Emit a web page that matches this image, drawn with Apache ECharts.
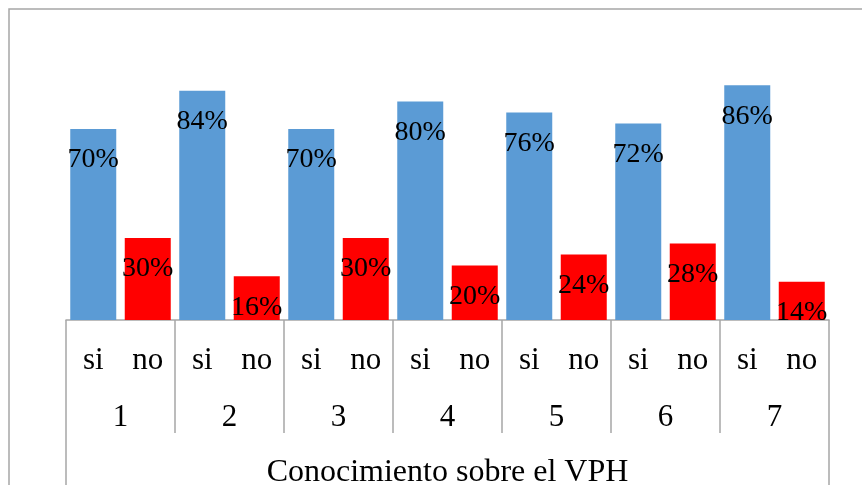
<!DOCTYPE html>
<html>

<head>
	<meta charset="utf-8" />
	<title>Conocimiento sobre el VPH</title>
	<script src="https://cdn.jsdelivr.net/npm/echarts@6/dist/echarts.min.js"></script>
	<style>
		* {
			margin: 0;
			padding: 0;
		}

		html,
		body {
			width: 100%;
			height: 100%;
			background: #fff;
		}

		#main {
			width: 862px;
			height: 485px;
		}
	</style>
</head>

<body>
	<div id="main"></div>
	<script>
		// datos
		var respuestas = ['si', 'no', 'si', 'no', 'si', 'no', 'si', 'no', 'si', 'no', 'si', 'no', 'si', 'no'];
		var preguntas = ['1', '2', '3', '4', '5', '6', '7'];
		var titulo = ['Conocimiento sobre el VPH'];
		var valores = [70, 30, 84, 16, 70, 30, 80, 20, 76, 24, 72, 28, 86, 14];
		var colorSi = '#5b9bd5';
		var colorNo = '#ff0000';

		var fuente = '"Liberation Serif", "Times New Roman", serif';
		var gris = '#a6a6a6';

		var myChart = echarts.init(document.getElementById('main'));

		var option = {
			animation: false,
			grid: {
				left: 66,
				right: 33,
				top: 47,
				bottom: 165,
				containLabel: false,
				outerBoundsMode: 'none'
			},
			graphic: [
				{
					type: 'rect',
					shape: { x: 9, y: 9, width: 900, height: 600 },
					style: { fill: 'none', stroke: gris, lineWidth: 1.5 },
					silent: true
				}
			],
			xAxis: [
				{
					type: 'category',
					data: respuestas,
					position: 'bottom',
					axisLine: { show: true, lineStyle: { color: gris, width: 1.5 } },
					axisTick: { show: false },
					axisLabel: {
						interval: 0,
						margin: 25,
						color: '#000',
						fontFamily: fuente,
						fontSize: 31,
						lineHeight: 32
					}
				},
				{
					type: 'category',
					data: preguntas,
					position: 'bottom',
					axisLine: { show: false },
					axisTick: { show: true, length: 113, lineStyle: { color: gris, width: 1.5 } },
					axisLabel: {
						interval: 0,
						margin: 82,
						color: '#000',
						fontFamily: fuente,
						fontSize: 31,
						lineHeight: 32
					}
				},
				{
					type: 'category',
					data: titulo,
					position: 'bottom',
					axisLine: { show: false },
					axisTick: { show: true, length: 200, lineStyle: { color: gris, width: 1.5 } },
					axisLabel: {
						interval: 0,
						margin: 137,
						color: '#000',
						fontFamily: fuente,
						fontSize: 32,
						lineHeight: 32
					}
				}
			],
			yAxis: {
				type: 'value',
				min: 0,
				max: 100,
				show: false
			},
			series: [
				{
					type: 'bar',
					xAxisIndex: 0,
					barWidth: 46,
					data: valores.map(function (v, i) {
						return {
							value: v,
							itemStyle: { color: i % 2 === 0 ? colorSi : colorNo }
						};
					}),
					label: {
						show: true,
						position: 'insideTop',
						offset: [0, 12],
						formatter: '{c}%',
						color: '#000',
						fontFamily: fuente,
						fontSize: 28,
						lineHeight: 28
					}
				}
			]
		};
		myChart.setOption(option);
	</script>
</body>

</html>
